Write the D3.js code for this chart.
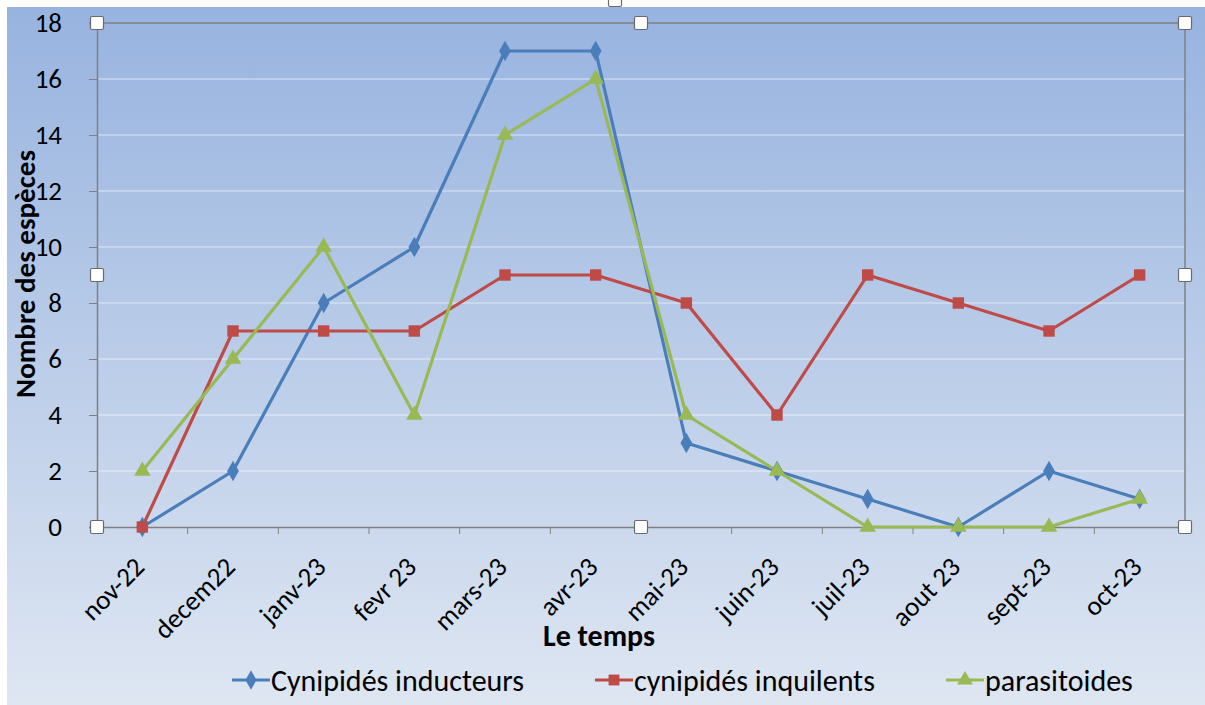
<!DOCTYPE html>
<html><head><meta charset="utf-8">
<script src="https://cdn.jsdelivr.net/npm/d3@7"></script>
<style>body{margin:0;background:#fff}svg{display:block}</style>
</head><body>
<svg id="c" width="1205" height="705"></svg>
<script>
const categories = ["nov-22","decem22","janv-23","fevr 23","mars-23","avr-23","mai-23","juin-23","juil-23","aout 23","sept-23","oct-23"];
const inducteurs = [0,2,8,10,17,17,3,2,1,0,2,1];
const inquilents = [0,7,7,7,9,9,8,4,9,8,7,9];
const parasitoides = [2,6,10,4,14,16,4,2,0,0,0,1];
const yTicks = [0,2,4,6,8,10,12,14,16,18];
const seriesNames = ["Cynipidés inducteurs","cynipidés inquilents","parasitoides"];

const svg = d3.select("#c");
const W = 1205, H = 705;
const m = {l:97, r:1185, t:23, b:527};
const font = "Calibri, Carlito, 'Open Sans', 'Liberation Sans', sans-serif";

const defs = svg.append("defs");
const g = defs.append("linearGradient").attr("id","bg").attr("x1",0).attr("y1",0).attr("x2",0).attr("y2",1);
g.append("stop").attr("offset","0%").attr("stop-color","#97b3df");
g.append("stop").attr("offset","100%").attr("stop-color","#dee6f2");
svg.append("rect").attr("x",7).attr("y",7).attr("width",W-7).attr("height",H-7).attr("fill","url(#bg)");

const x = d3.scaleBand().domain(categories).range([m.l,m.r]);
const y = d3.scaleLinear().domain([0,18]).range([m.b,m.t]);
const cx = d => x(d)+x.bandwidth()/2;

// gridlines
svg.append("g").selectAll("line").data(yTicks.slice(1,-1)).join("line")
  .attr("x1",m.l).attr("x2",m.r).attr("y1",d=>y(d)).attr("y2",d=>y(d))
  .attr("stroke","#ffffff").attr("stroke-opacity",0.6).attr("stroke-width",1);

// axes
const yAxis = svg.append("g").attr("transform",`translate(${m.l},0)`)
  .call(d3.axisLeft(y).tickValues(yTicks).tickSize(8).tickPadding(27));
yAxis.select(".domain").attr("stroke","#808080").attr("stroke-width",1.5);
yAxis.selectAll(".tick line").attr("stroke","#808080");
yAxis.selectAll("text").attr("font-family",font).attr("font-size",27).attr("fill","#000");

const xAxis = svg.append("g").attr("transform",`translate(0,${m.b})`)
  .call(d3.axisBottom(x).tickSize(0).tickFormat(""));
xAxis.select(".domain").attr("stroke","#808080").attr("stroke-width",1.5);
// band boundary ticks
svg.append("g").selectAll("line").data(categories.slice(1)).join("line")
  .attr("x1",d=>x(d)).attr("x2",d=>x(d)).attr("y1",m.b).attr("y2",m.b+7)
  .attr("stroke","#808080");
// top & right border
svg.append("line").attr("x1",m.l).attr("x2",m.r).attr("y1",m.t).attr("y2",m.t).attr("stroke","#808080").attr("stroke-width",1.5);
svg.append("line").attr("x1",m.r).attr("x2",m.r).attr("y1",m.t).attr("y2",m.b).attr("stroke","#808080").attr("stroke-width",1.5);

// x labels
svg.append("g").selectAll("text").data(categories).join("text")
  .attr("transform",d=>`translate(${cx(d)-3},${m.b+35}) rotate(-45)`)
  .attr("text-anchor","end").attr("dy","0.35em")
  .attr("font-family",font).attr("font-size",27).attr("fill","#000").text(d=>d);

// titles
svg.append("text").attr("x",599).attr("y",646).attr("text-anchor","middle")
  .attr("font-family",font).attr("font-size",30).attr("font-weight","bold").text("Le temps");
svg.append("text").attr("transform","translate(35,274) rotate(-90)").attr("text-anchor","middle")
  .attr("font-family",font).attr("font-size",29).attr("font-weight","bold").text("Nombre des espèces");

const series = [
  {name:seriesNames[0], vals:inducteurs, color:"#4a7ebb", shape:d3.symbolDiamond, size:120},
  {name:seriesNames[1], vals:inquilents, color:"#be4b48", shape:d3.symbolSquare, size:130},
  {name:seriesNames[2], vals:parasitoides, color:"#98b954", shape:d3.symbolTriangle, size:120}
];
const line = d3.line().x((d,i)=>cx(categories[i])).y(d=>y(d));
series.forEach(s=>{
  svg.append("path").datum(s.vals).attr("d",line).attr("fill","none")
    .attr("stroke",s.color).attr("stroke-width",3.2).attr("stroke-linejoin","round");
});
series.forEach(s=>{
  svg.append("g").selectAll("path").data(s.vals).join("path")
    .attr("transform",(d,i)=>`translate(${cx(categories[i])},${y(d)})`)
    .attr("d",d3.symbol().type(s.shape).size(s.size)).attr("fill",s.color);
});

// legend
const legX = [232, 595, 946];
series.forEach((s,i)=>{
  const lg = svg.append("g").attr("transform",`translate(${legX[i]},680)`);
  lg.append("line").attr("x1",0).attr("x2",38).attr("stroke",s.color).attr("stroke-width",3.2);
  lg.append("path").attr("transform","translate(19,0)").attr("d",d3.symbol().type(s.shape).size(s.size*0.9)).attr("fill",s.color);
  lg.append("text").attr("x",39).attr("dy","0.35em").attr("font-family",font).attr("font-size",30).attr("fill","#000").text(s.name);
});

// selection handles
const handles = [[m.l,m.t],[(m.l+m.r)/2,m.t],[m.r,m.t],[m.l,(m.t+m.b)/2],[m.r,(m.t+m.b)/2],[m.l,m.b],[(m.l+m.r)/2,m.b],[m.r,m.b],[615,0]];
svg.append("g").selectAll("rect").data(handles).join("rect")
  .attr("x",d=>d[0]-6.5).attr("y",d=>d[1]-6.5).attr("width",13).attr("height",13).attr("rx",1.5)
  .attr("fill","#fff").attr("stroke","#6a6a6a").attr("stroke-width",1.2);
</script>
</body></html>
